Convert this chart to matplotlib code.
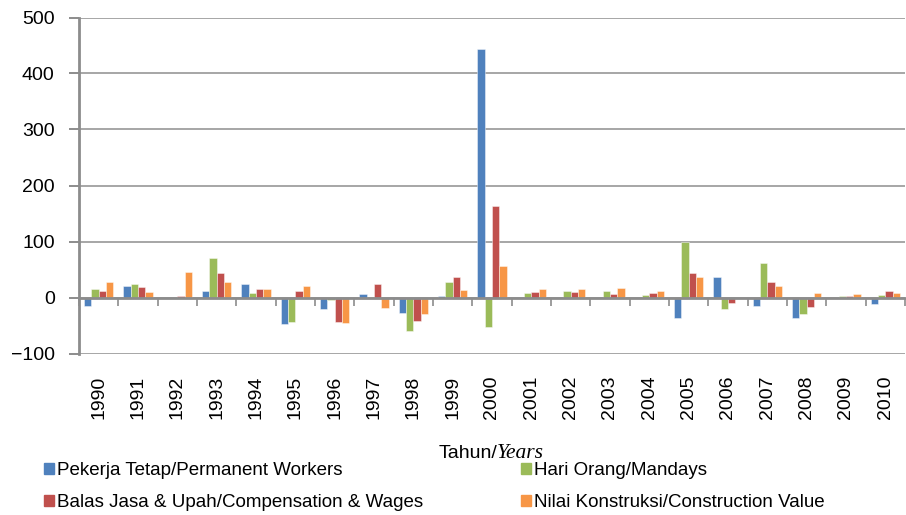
import matplotlib.pyplot as plt
import matplotlib.patches as mpatches
import numpy as np

# ---- data (percent change) ---------------------------------------------------
YEARS = [str(y) for y in range(1990, 2011)]

PERMANENT_WORKERS = [-15, 21, -1, 12, 24, -47, -21, 6, -27, 2, 443,
                     0, 0, 0, -1, -36, 37, -16, -36, 0, -11]
MANDAYS = [15, 24, 0, 70, 8, -43, -5, 1, -60, 28, -52,
           8, 12, 12, 5, 99, -20, 61, -30, 3, 5]
WAGES = [11, 18, 3, 43, 16, 12, -43, 24, -42, 36, 163,
         9, 9, 6, 8, 43, -10, 28, -17, 3, 12]
CONSTRUCTION = [28, 9, 45, 28, 16, 20, -45, -19, -29, 14, 56,
                15, 15, 17, 12, 37, 0, 21, 8, 7, 8]

SERIES = [
    ("Pekerja Tetap/Permanent Workers", PERMANENT_WORKERS, "#4F81BD"),
    ("Hari Orang/Mandays", MANDAYS, "#9BBB59"),
    ("Balas Jasa & Upah/Compensation & Wages", WAGES, "#C0504D"),
    ("Nilai Konstruksi/Construction Value", CONSTRUCTION, "#F79646"),
]

YMIN, YMAX = -100, 500
GRAY = "#8C8C8C"

plt.rcParams["font.family"] = ["Liberation Sans", "DejaVu Sans"]

fig = plt.figure(figsize=(9.06, 5.15), dpi=100)
ax = fig.add_axes([79 / 906, 1 - 353.5 / 515, (905 - 79) / 906, (353.5 - 17.5) / 515])

x = np.arange(len(YEARS))
w = 0.186
for i, (label, vals, color) in enumerate(SERIES):
    ax.bar(x + (i - 1.5) * w, vals, width=w, color=color,
           edgecolor=(1, 1, 1, 0.5), linewidth=0.6, label=label, zorder=3)

ax.set_xlim(-0.5, len(YEARS) - 0.5)
ax.set_ylim(YMIN, YMAX)
ax.set_yticks(np.arange(YMIN, YMAX + 1, 100))
ax.yaxis.grid(True, color="#A6A6A6", linewidth=1.4, zorder=0)
ax.set_axisbelow(True)
ax.tick_params(axis="y", direction="out", length=7, width=1.4, color=GRAY,
               labelsize=14, pad=10.5)

for side in ("top", "right"):
    ax.spines[side].set_visible(False)
ax.spines["left"].set_color(GRAY)
ax.spines["left"].set_linewidth(2)

# category axis line sits at zero, ticks between categories
ax.spines["bottom"].set_position(("data", 0))
ax.spines["bottom"].set_color(GRAY)
ax.spines["bottom"].set_linewidth(2)
ax.spines["bottom"].set_zorder(4)
ax.set_xticks(np.arange(len(YEARS) + 1) - 0.5)
ax.set_xticklabels([])
ax.tick_params(axis="x", direction="out", length=6, width=1.2, color=GRAY)

# year labels at the bottom of the plot area
sec = ax.secondary_xaxis(0)
sec.set_xticks(x)
sec.set_xticklabels(YEARS, rotation=90, fontsize=14)
sec.tick_params(length=0, pad=16)
sec.spines["bottom"].set_visible(False)

# axis title: "Tahun/" sans + "Years" italic serif
fig.text(497 / 906, 1 - 453 / 515, "Tahun/", ha="right", va="center", fontsize=14)
fig.text(497 / 906, 1 - 453 / 515, "Years", ha="left", va="center", fontsize=15.5,
         fontstyle="italic", family=["Liberation Serif", "DejaVu Serif"])

handles = [mpatches.Patch(color=c, label=l) for l, _, c in SERIES]
order = [0, 2, 1, 3]
fig.legend(handles=[handles[k] for k in order], ncols=2,
           loc="upper left", bbox_to_anchor=(44 / 906, 1 - 462 / 515),
           frameon=False, fontsize=13.5, handlelength=0.55, handleheight=0.55,
           handletextpad=0.15, columnspacing=5.2, labelspacing=0.8,
           borderaxespad=0, borderpad=0)

fig.savefig("out.png", dpi=100)
